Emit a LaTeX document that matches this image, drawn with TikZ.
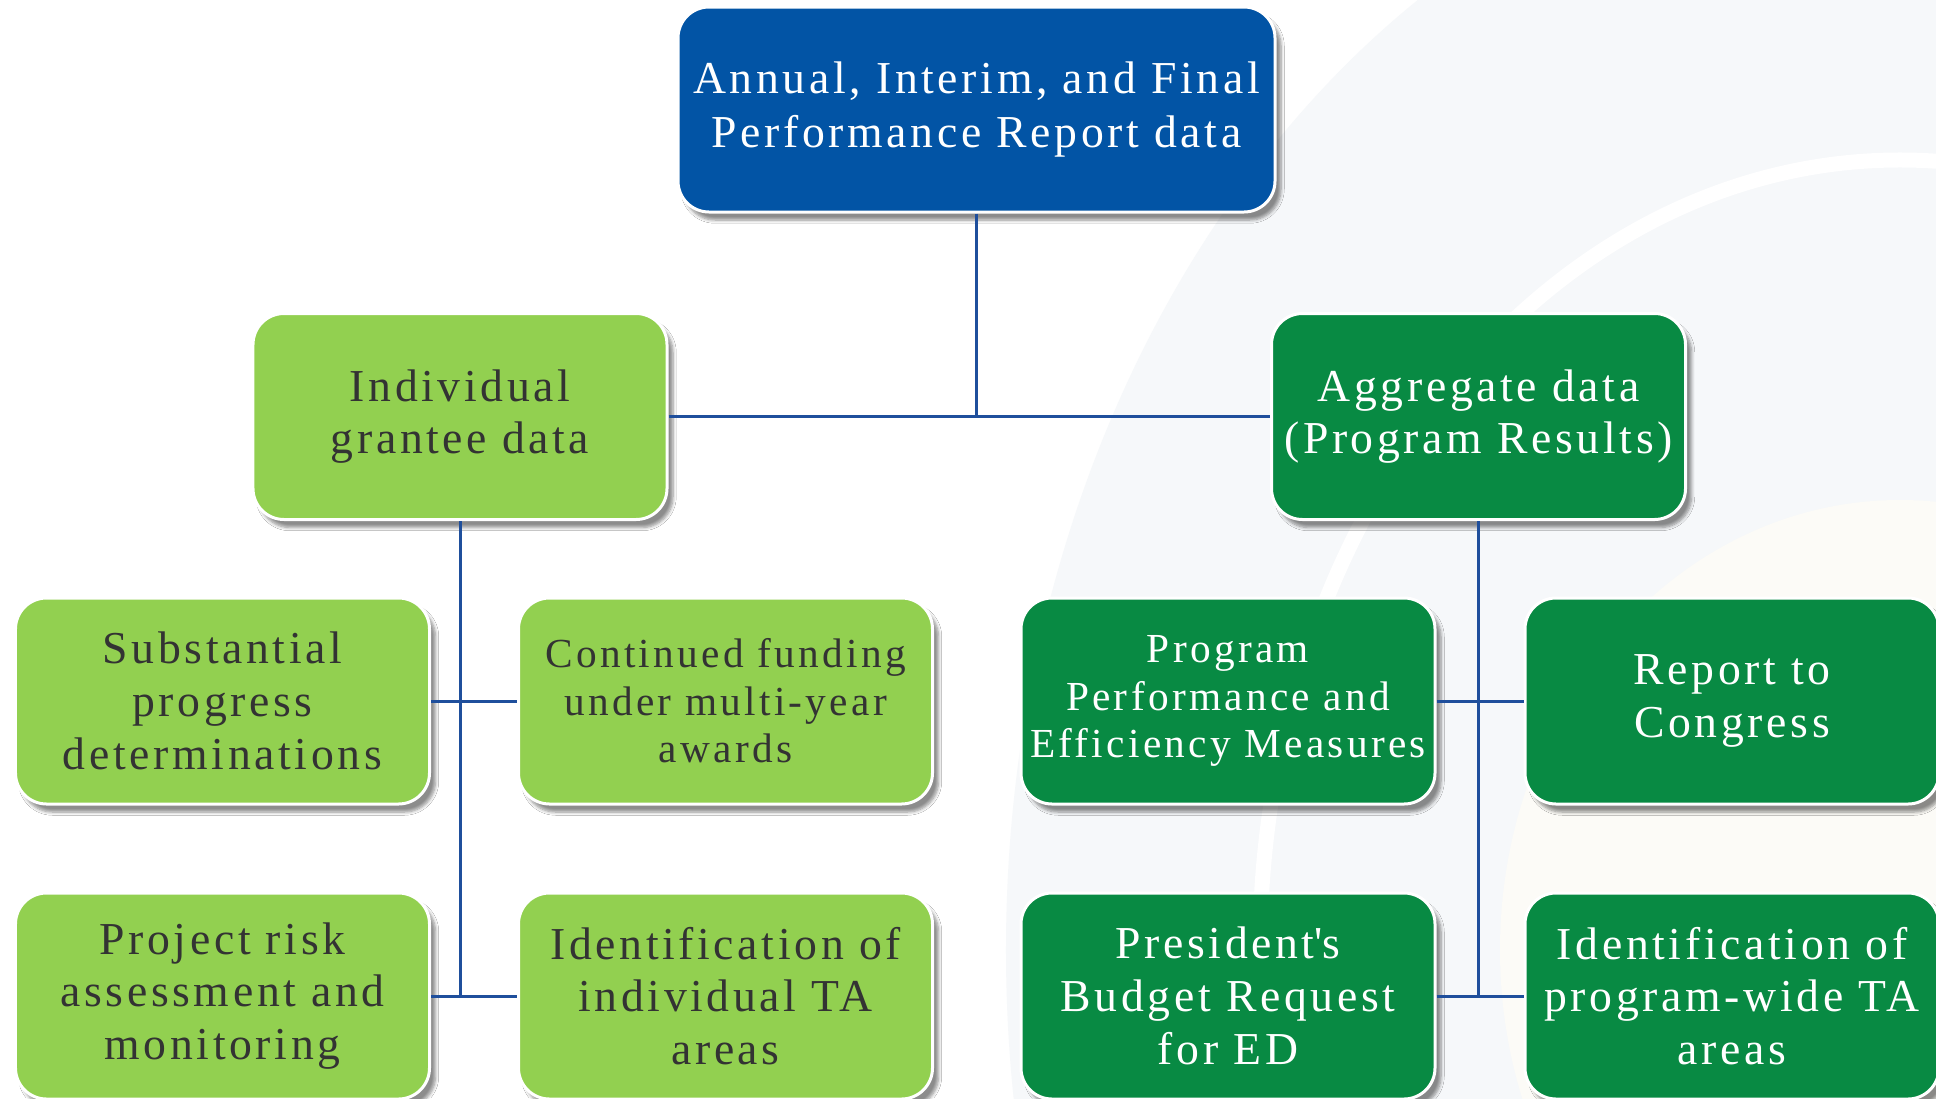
\documentclass[tikz,border=0pt]{standalone}
\usepackage{fontspec}
\setmainfont{Liberation Serif}[LetterSpace=8]
\usetikzlibrary{shadows.blur}
\definecolor{rptblue}{HTML}{0254A5}
\definecolor{lightgrn}{HTML}{92D050}
\definecolor{darkgrn}{HTML}{088A43}
\definecolor{linkblue}{HTML}{1F4F9C}
\definecolor{txtgray}{HTML}{333333}
\definecolor{bgblue}{HTML}{F6F8FA}
\definecolor{bgcream}{HTML}{FCFBF7}
\tikzset{
  box/.style={draw=white, line width=0.6mm, rounded corners=6.2mm,
    minimum width=82.8mm, minimum height=41.2mm, align=center, inner sep=0pt,
    blur shadow={shadow xshift=1.2mm, shadow yshift=-1.6mm,
      shadow blur steps=6, shadow opacity=45},
    font=\fontsize{26}{30}\selectfont},
  lgbox/.style={box, fill=lightgrn, text=txtgray},
  dgbox/.style={box, fill=darkgrn, text=white},
  conn/.style={linkblue, line width=0.6mm},
}

\begin{document}
\begin{tikzpicture}[x=0.2mm, y=-0.2mm]
\useasboundingbox (0,0) rectangle (1936,1098);
\clip (0,0) rectangle (1936,1098);
\fill[white] (0,0) rectangle (1936,1098);
\fill[bgblue] (1900,950) ellipse [x radius=178.8mm, y radius=225.6mm]; %背景
\draw[white, line width=3mm] (1900,950) ellipse [x radius=128mm, y radius=158mm];
\fill[bgcream] (1900,950) ellipse [x radius=80mm, y radius=90mm];

\node[box, fill=rptblue, text=white, minimum width=119.4mm, minimum height=41mm,
  font=\fontsize{26}{31}\selectfont] (rpt) at (976.5,109.5)
  {Annual, Interim, and Final\\Performance Report data};

\node[lgbox] (indiv) at (460,416.5) {Individual\\grantee data};
\node[dgbox] (aggr) at (1478.5,416.5) {Aggregate data\\(Program Results)};

\node[lgbox] (subst) at (222.5,701) {Substantial\\progress\\determinations};
\node[lgbox, font=\fontsize{23.5}{27}\selectfont] (fund) at (725.5,701)
  {Continued funding\\under multi-year\\awards};
\node[dgbox, font=\fontsize{23.5}{27}\selectfont] (perf) at (1228,701)
  {Program\\Performance and\\Efficiency Measures};
\node[dgbox] (cong) at (1732,701) {Report to\\Congress};

\node[lgbox] (risk) at (222.5,996) {Project risk\\assessment and\\monitoring};
\node[lgbox] (indta) at (725.5,996) {Identification of\\individual TA\\areas};
\node[dgbox] (budget) at (1228,996) {President\textquotesingle s\\Budget Request\\for ED};
\node[dgbox] (progta) at (1732,996) {Identification of\\program-wide TA\\areas};

\draw[conn] (rpt.south) -- (rpt.south |- indiv.east); %上
\draw[conn] (indiv.east) -- (aggr.west);
\draw[conn] (indiv.south) -- (indiv.south |- risk.east); %左
\draw[conn] (subst.east) -- (fund.west);
\draw[conn] (risk.east) -- (indta.west);
\draw[conn] (aggr.south) -- (aggr.south |- budget.east); %右
\draw[conn] (perf.east) -- (cong.west);
\draw[conn] (budget.east) -- (progta.west);

\end{tikzpicture}
\end{document}
